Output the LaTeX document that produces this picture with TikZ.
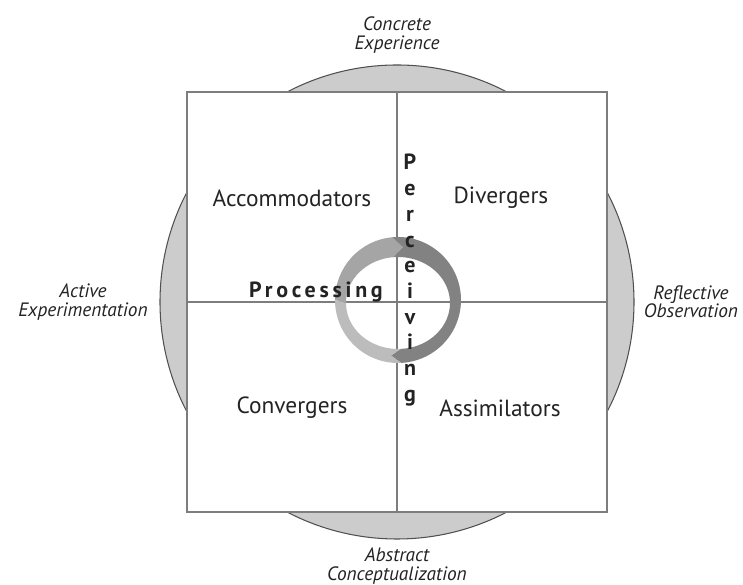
\documentclass[tikz,border=0pt]{standalone}
\usepackage{fontspec}
\setmainfont{PT Sans}
\newfontfamily\spacedfont[LetterSpace=17]{PT Sans}
\usetikzlibrary{calc}
\definecolor{disc}{RGB}{204,204,204}
\definecolor{outline}{RGB}{80,80,80}
\definecolor{frame}{RGB}{125,125,125}
\definecolor{ringlight}{RGB}{188,188,188}
\definecolor{ringmid}{RGB}{165,165,165}
\definecolor{ringdark}{RGB}{130,130,130}
\definecolor{ink}{RGB}{35,35,35}
\tikzset{
  stage/.style={ink, font=\fontsize{11}{10.5}\selectfont\itshape, align=center},
  learner/.style={ink, font=\fontsize{13.3}{15}\selectfont},
  cycletext/.style={ink, font=\fontsize{12.5}{14}\selectfont\bfseries, inner sep=0pt}
}

\begin{document}
\begin{tikzpicture}
  \useasboundingbox (0,0) rectangle (14.86,11.70);
  % Outer disc
  \draw[outline, fill=disc, line width=0.6pt] (7.94,5.66) circle (4.74);
  % Quadrant square
  \draw[frame, fill=white, line width=0.9pt] (3.74,1.46) rectangle (12.14,9.86);
  \coordinate (top) at (7.94,9.86);
  \coordinate (bottom) at (7.94,1.46);
  \coordinate (left) at (3.74,5.66);
  \coordinate (right) at (12.14,5.66);
  \draw[frame, line width=0.9pt] (top) -- (bottom);
  \draw[frame, line width=0.9pt] (left) -- (right);
  % Cycle ring
  \coordinate (co) at (7.96,5.70);
  \coordinate (ci) at (7.96,5.64);
  \coordinate (cm) at (7.96,5.67);
  \fill[ringmid] ($(co)+(180:1.26)$) arc[start angle=180, end angle=95, radius=1.26]
    -- ($(cm)+(85:1.15 and 1.09)$) -- ($(ci)+(95:1.04 and 0.92)$)
    arc[start angle=95, end angle=180, x radius=1.04, y radius=0.92] -- cycle;
  \fill[ringdark] ($(co)+(95:1.26)$) arc[start angle=95, end angle=-87, radius=1.26]
    -- ($(cm)+(-97:1.15 and 1.09)$) -- ($(ci)+(-87:1.04 and 0.92)$)
    arc[start angle=-87, end angle=95, x radius=1.04, y radius=0.92]
    -- ($(cm)+(85:1.15 and 1.09)$) -- cycle;
  \fill[ringlight] ($(co)+(-87:1.26)$) arc[start angle=-87, end angle=-180, radius=1.26]
    -- ($(ci)+(180:1.04 and 0.92)$)
    arc[start angle=-180, end angle=-87, x radius=1.04, y radius=0.92]
    -- ($(cm)+(-97:1.15 and 1.09)$) -- cycle;
  % Stages
  \node[stage] (concrete) at (7.94,11.0) {Concrete\\Experience};
  \node[stage] (active) at (1.66,5.66) {Active\\Experimentation};
  \node[stage] (reflective) at (13.82,5.66) {Reflective\\Observation};
  \node[stage] (abstract) at (7.94,0.38) {Abstract\\Conceptualization};
  % Learning styles
  \node[learner] (accom) at (5.84,7.74) {Accommodators};
  \node[learner] (diverg) at (10.02,7.74) {Divergers};
  \node[learner] (converg) at (5.84,3.54) {Convergers};
  \node[learner] (assim) at (10.00,3.54) {Assimilators};
  % Processing and perceiving
  \node[cycletext, anchor=base] (processing) at (6.32,5.74) {\spacedfont\bfseries Processing};
  \foreach \l [count=\i from 0] in {P,e,r,c,e,i,v,i,n,g}
    \node[cycletext, anchor=base] (perc-\i) at ({8.20},{8.30-0.514*\i}) {\l};
\end{tikzpicture}
\end{document}
